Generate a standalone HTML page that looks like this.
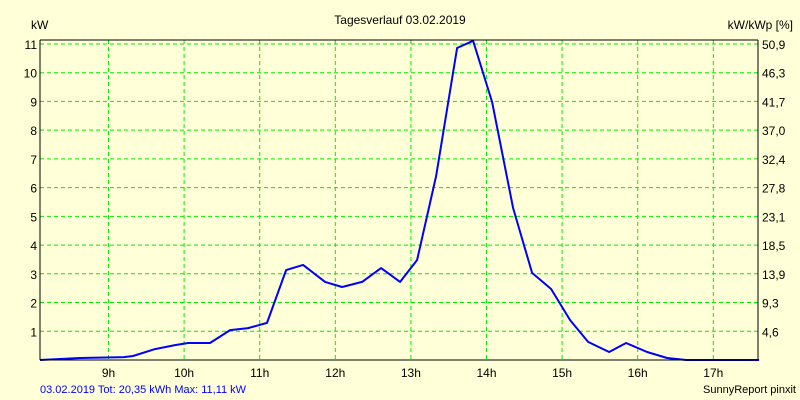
<!DOCTYPE html>
<html><head><meta charset="utf-8"><style>
body{margin:0;background:#ffffd8;}
svg{display:block;font-family:"Liberation Sans",sans-serif;}
</style></head><body>
<svg id="chart" width="800" height="400" viewBox="0 0 800 400">
<rect x="0" y="0" width="800" height="400" fill="#ffffd8"/>
<text x="400" y="24" font-size="12" text-anchor="middle" fill="#000">Tagesverlauf 03.02.2019</text>
<text x="31" y="29" font-size="12" fill="#000">kW</text>
<text x="793" y="29" font-size="12" text-anchor="end" fill="#000">kW/kWp [%]</text>
<g id="grid"></g>
<g id="ticks"></g>
<polyline id="series" fill="none" stroke="#0000ff" stroke-width="2" stroke-linejoin="round"/>
<line x1="40" y1="40" x2="40" y2="360" stroke="#000"/>
<line x1="758" y1="40" x2="758" y2="360" stroke="#000"/>
<line x1="40" y1="40" x2="758" y2="40" stroke="#000"/>
<line x1="40" y1="360" x2="758" y2="360" stroke="#000"/>
<text x="40" y="393" font-size="11" fill="#0000ff">03.02.2019 Tot: 20,35 kWh Max: 11,11 kW</text>
<text x="796" y="393" font-size="11" text-anchor="end" fill="#000">SunnyReport pinxit</text>
</svg>
<script>
const times=[8.094,8.623,9.205,9.324,9.615,9.880,10.052,10.343,10.608,10.846,11.097,11.349,11.574,11.865,12.090,12.354,12.606,12.857,13.082,13.333,13.611,13.823,14.074,14.352,14.603,14.854,15.106,15.344,15.622,15.847,16.124,16.389,16.640,17.606];
const values=[0,0.07,0.1,0.14,0.38,0.52,0.59,0.59,1.04,1.11,1.29,3.13,3.31,2.72,2.54,2.72,3.2,2.72,3.48,6.4,10.86,11.11,8.98,5.29,3.03,2.47,1.39,0.63,0.28,0.59,0.28,0.07,0,0];
const hourTicks=[9,10,11,12,13,14,15,16,17];
const leftTicks=[1,2,3,4,5,6,7,8,9,10,11];
const rightLabels=["4,6","9,3","13,9","18,5","23,1","27,8","32,4","37,0","41,7","46,3","50,9"];
const NS="http://www.w3.org/2000/svg";
const xS=h=>108.5+(h-9)*75.6;
const yS=v=>360-v*28.73;
const grid=document.getElementById('grid'),ticks=document.getElementById('ticks');
function mk(tag,attrs,parent){const e=document.createElementNS(NS,tag);for(const k in attrs)e.setAttribute(k,attrs[k]);parent.appendChild(e);return e;}
hourTicks.forEach(h=>{
 const l=mk('line',{x1:xS(h),x2:xS(h),y1:40,y2:360,stroke:'#00ee00','stroke-dasharray':'4,3'},grid);
 
 
 const t=mk('text',{x:xS(h),y:377,'font-size':12,'text-anchor':'middle',fill:'#000'},ticks);t.textContent=h+'h';
 
 
});
leftTicks.forEach((v,i)=>{
 const l=mk('line',{x1:40,x2:758,y1:yS(v),y2:yS(v),stroke:'#00ee00','stroke-dasharray':'4,3'},grid);
 
 
 const t=mk('text',{x:37,y:yS(v)+5,'font-size':12,'text-anchor':'end',fill:'#000'},ticks);t.textContent=v;
 
 
 const r=mk('text',{x:762,y:yS(v)+5,'font-size':12,fill:'#000'},ticks);r.textContent=rightLabels[i];
 
 
});
document.getElementById('series').setAttribute('points',times.map((t,i)=>xS(t).toFixed(1)+','+Math.max(40,yS(values[i])).toFixed(1)).join(' '));
</script>
</body></html>
